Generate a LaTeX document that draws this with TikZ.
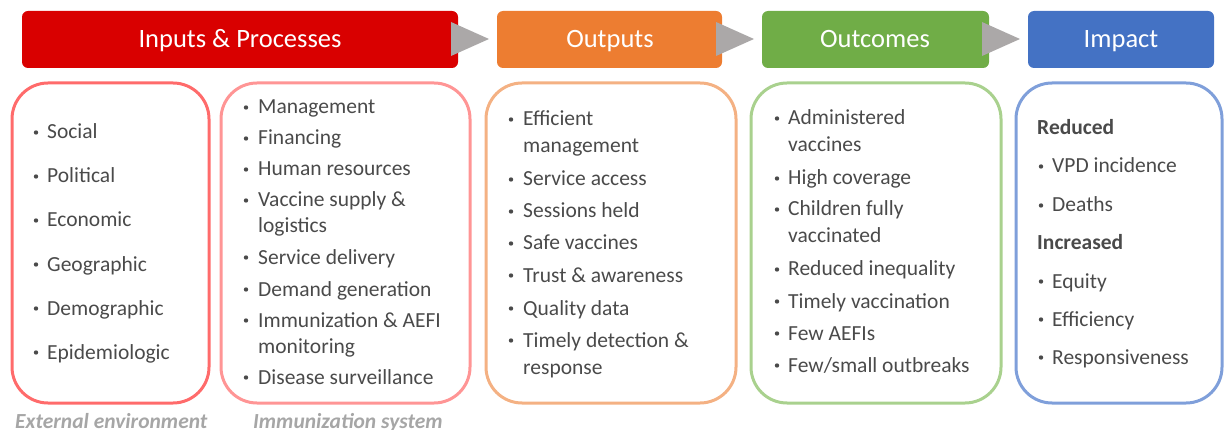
\documentclass[tikz,border=0pt]{standalone}
\usepackage{fontspec}
\setmainfont{Carlito}
\definecolor{hdred}{HTML}{D90000}
\definecolor{hdorange}{HTML}{ED7D31}
\definecolor{hdgreen}{HTML}{70AD47}
\definecolor{hdblue}{HTML}{4472C4}
\definecolor{lnred}{HTML}{FF6B6B}
\definecolor{lnpink}{HTML}{FF9595}
\definecolor{lnorange}{HTML}{F4B183}
\definecolor{lngreen}{HTML}{A9D18E}
\definecolor{lnblue}{HTML}{7F9FDA}
\definecolor{arrowgray}{HTML}{ABA8A8}
\definecolor{txtgray}{HTML}{4A4A4A}
\definecolor{capgray}{HTML}{A6A6A6}
\tikzset{
  header/.style={fill=#1, rounded corners=6pt},
  htext/.style={anchor=base, text=white, font=\fontsize{26.5}{30}\selectfont, inner sep=0pt},
  panel/.style={draw=#1, line width=3pt, rounded corners=36pt},
  chevron/.style={fill=arrowgray},
  itm/.style={anchor=base west, inner sep=0pt, text=txtgray, font=\fontsize{21.5}{25}\selectfont},
  dot/.style={circle, fill=txtgray, inner sep=0pt, minimum size=4.4pt},
  hd/.style={itm, font=\fontsize{21.5}{25}\selectfont\bfseries},
  caption/.style={anchor=base west, inner sep=0pt, text=capgray, font=\fontsize{21.5}{25}\selectfont\bfseries\itshape},
}
% bullet item: name, bullet centre x, text x, baseline y, text
\newcommand\bitem[5]{%
  \node[dot] (#1b) at (#2,#4-6.5) {};
  \node[itm] (#1) at (#3,#4) {#5};}
\newcommand\litem[4]{\node[itm] (#1) at (#2,#3) {#4};}
\begin{document}
\begin{tikzpicture}[x=1pt,y=-1pt]
\useasboundingbox (0,0) rectangle (1225,430);

% stage headers
\fill[header=hdred]    (22,11)   rectangle (458,68);
\fill[header=hdorange] (497,11)  rectangle (722,68);
\fill[header=hdgreen]  (762,11)  rectangle (989,68);
\fill[header=hdblue]   (1028,11) rectangle (1214,68);
\node[htext] (h1) at (240,48)  {Inputs \& Processes};
\node[htext] (h2) at (610,48)  {Outputs};
\node[htext] (h3) at (875,48)  {Outcomes};
\node[htext] (h4) at (1121,48) {Impact};

% chevrons between stages
\fill[chevron] (451,22) -- (489,39) -- (451,56) -- cycle;
\fill[chevron] (716,22) -- (754,39) -- (716,56) -- cycle;
\fill[chevron] (982,22) -- (1020,39) -- (982,56) -- cycle;

% panels
\draw[panel=lnred]    (12,83)   rectangle (209,403);
\draw[panel=lnpink]   (221,83)  rectangle (470,403);
\draw[panel=lnorange] (486,83)  rectangle (736,403);
\draw[panel=lngreen]  (751,83)  rectangle (1001,403);
\draw[panel=lnblue]   (1016,83) rectangle (1222,403);

% external environment
\bitem{a1}{36}{47}{139}{Social}
\bitem{a2}{36}{47}{183}{Political}
\bitem{a3}{36}{47}{227}{Economic}
\bitem{a4}{36}{47}{271}{Geographic}
\bitem{a5}{36}{47}{315}{Demographic}
\bitem{a6}{36}{47}{359}{Epidemiologic}

% immunization system
\bitem{b1}{246}{258}{114}{Management}
\bitem{b2}{246}{258}{145}{Financing}
\bitem{b3}{246}{258}{176}{Human resources}
\bitem{b4}{246}{258}{207}{Vaccine supply \&}
\litem{b4c}{258}{233}{logistics}
\bitem{b5}{246}{258}{264}{Service delivery}
\bitem{b6}{246}{258}{296}{Demand generation}
\bitem{b7}{246}{258}{327}{Immunization \& AEFI}
\litem{b7c}{258}{353}{monitoring}
\bitem{b8}{246}{258}{384}{Disease surveillance}

% outputs
\bitem{c1}{511}{523}{126}{Efficient}
\litem{c1c}{523}{153}{management}
\bitem{c2}{511}{523}{186}{Service access}
\bitem{c3}{511}{523}{218}{Sessions held}
\bitem{c4}{511}{523}{250}{Safe vaccines}
\bitem{c5}{511}{523}{282}{Trust \& awareness}
\bitem{c6}{511}{523}{315}{Quality data}
\bitem{c7}{511}{523}{347}{Timely detection \&}
\litem{c7c}{523}{374}{response}

% outcomes
\bitem{d1}{777}{788}{125}{Administered}
\litem{d1c}{788}{152}{vaccines}
\bitem{d2}{777}{788}{185}{High coverage}
\bitem{d3}{777}{788}{216}{Children fully}
\litem{d3c}{788}{243}{vaccinated}
\bitem{d4}{777}{788}{276}{Reduced inequality}
\bitem{d5}{777}{788}{308}{Timely vaccination}
\bitem{d6}{777}{788}{340}{Few AEFIs}
\bitem{d7}{777}{788}{372}{Few/small outbreaks}

% impact
\node[hd] (e0) at (1037,135) {Reduced};
\bitem{e1}{1041}{1052}{173}{VPD incidence}
\bitem{e2}{1041}{1052}{212}{Deaths}
\node[hd] (e3) at (1037,250) {Increased};
\bitem{e4}{1041}{1052}{288}{Equity}
\bitem{e5}{1041}{1052}{326}{Efficiency}
\bitem{e6}{1041}{1052}{364}{Responsiveness}

% panel captions
\node[caption] (f1) at (15,428)  {External environment};
\node[caption] (f2) at (253,428) {Immunization system};
\end{tikzpicture}
\end{document}
